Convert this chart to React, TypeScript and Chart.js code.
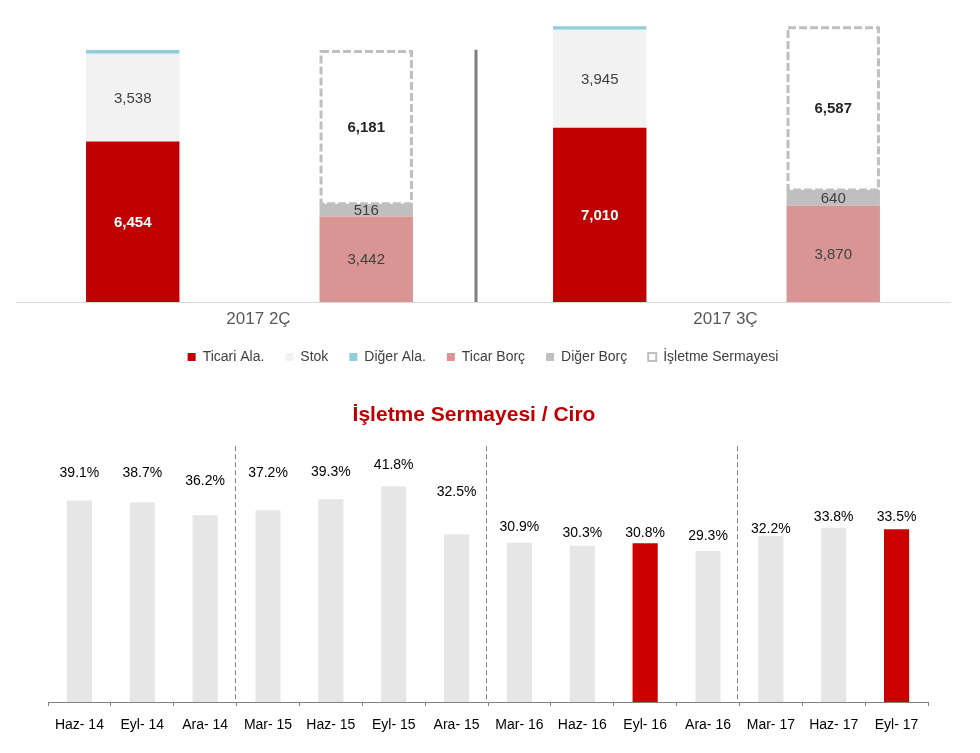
import React, { useEffect, useRef } from 'react';
import { Chart, registerables } from 'chart.js';

Chart.register(...registerables);
Chart.defaults.font.family = '"Liberation Sans", Arial, sans-serif';

// ---------- Top chart data (working capital composition) ----------
const PERIODS = ['2017 2Ç', '2017 3Ç'];
const TICARI_ALACAK = [6454, 7010];
const STOK = [3538, 3945];
const DIGER_ALACAK = [147, 142];
const TICARI_BORC = [3442, 3870];
const DIGER_BORC = [516, 640];
const ISLETME_SERMAYESI = [6181, 6587];

// ---------- Bottom chart data (working capital / revenue) ----------
const RATIO_LABELS = [
  'Haz- 14', 'Eyl- 14', 'Ara- 14', 'Mar- 15', 'Haz- 15', 'Eyl- 15', 'Ara- 15',
  'Mar- 16', 'Haz- 16', 'Eyl- 16', 'Ara- 16', 'Mar- 17', 'Haz- 17', 'Eyl- 17',
];
const RATIO_VALUES = [39.1, 38.7, 36.2, 37.2, 39.3, 41.8, 32.5, 30.9, 30.3, 30.8, 29.3, 32.2, 33.8, 33.5];
const HIGHLIGHTED = ['Eyl- 16', 'Eyl- 17'];

// label lift above each bar (px) – styling only
const LABEL_LIFT = [27, 29, 34, 37, 27, 21, 42, 16, 13, 10, 15, 7, 11, 12];

const FONT = '"Liberation Sans", Arial, sans-serif';
const fmt = (v: number) => v.toLocaleString('en-US');

const TOP_LABEL_STYLE: ({ color: string; bold: boolean } | null)[] = [
  { color: '#FFFFFF', bold: true },
  { color: '#404040', bold: false },
  null,
  { color: '#404040', bold: false },
  { color: '#404040', bold: false },
  { color: '#262626', bold: true },
];

const topOverlay = {
  id: 'topOverlay',
  afterDatasetsDraw(chart: any) {
    const ctx = chart.ctx;
    const xs = chart.scales.x;
    const ys = chart.scales.y;
    ctx.save();
    // divider between periods
    const dx = xs.getPixelForValue(0.485);
    ctx.strokeStyle = '#7F7F7F';
    ctx.lineWidth = 3;
    ctx.beginPath();
    ctx.moveTo(dx, ys.getPixelForValue(10150));
    ctx.lineTo(dx, chart.chartArea.bottom);
    ctx.stroke();
    // dashed working-capital boxes
    const meta = chart.getDatasetMeta(5);
    ctx.setLineDash([8, 3]);
    ctx.strokeStyle = '#BFBFBF';
    ctx.lineWidth = 3;
    meta.data.forEach((bar: any) => {
      const p = bar.getProps(['x', 'y', 'base', 'width'], true);
      ctx.strokeRect(p.x - p.width / 2 + 1.5, p.y + 1.5, p.width - 3, p.base - p.y - 1.5);
    });
    ctx.setLineDash([]);
    // value labels
    ctx.textAlign = 'center';
    ctx.textBaseline = 'middle';
    chart.data.datasets.forEach((ds: any, di: number) => {
      const st = TOP_LABEL_STYLE[di];
      if (!st) return;
      chart.getDatasetMeta(di).data.forEach((bar: any, i: number) => {
        const p = bar.getProps(['x', 'y', 'base'], true);
        ctx.font = `${st.bold ? 'bold ' : ''}15px ${FONT}`;
        ctx.fillStyle = st.color;
        ctx.fillText(fmt(ds.data[i]), p.x, (p.y + p.base) / 2 + 1);
      });
    });
    ctx.restore();
  },
};

const bottomOverlay = {
  id: 'bottomOverlay',
  afterDatasetsDraw(chart: any) {
    const ctx = chart.ctx;
    const xs = chart.scales.x;
    const area = chart.chartArea;
    ctx.save();
    ctx.strokeStyle = '#7F7F7F';
    ctx.lineWidth = 1;
    ctx.setLineDash([5, 3]);
    RATIO_LABELS.forEach((l, i) => {
      if (i > 0 && l.startsWith('Mar')) {
        const px = Math.round((xs.getPixelForValue(i - 1) + xs.getPixelForValue(i)) / 2) - 1.5;
        ctx.beginPath();
        ctx.moveTo(px, area.top + 2);
        ctx.lineTo(px, area.bottom);
        ctx.stroke();
      }
    });
    ctx.setLineDash([]);
    ctx.font = `14px ${FONT}`;
    ctx.fillStyle = '#000000';
    ctx.textAlign = 'center';
    ctx.textBaseline = 'middle';
    chart.getDatasetMeta(0).data.forEach((bar: any, i: number) => {
      const p = bar.getProps(['x', 'y'], true);
      ctx.fillText(RATIO_VALUES[i].toFixed(1) + '%', p.x, p.y - LABEL_LIFT[i]);
    });
    ctx.restore();
  },
};

function TopChart() {
  const ref = useRef<HTMLCanvasElement>(null);
  useEffect(() => {
    if (!ref.current) return;
    const chart = new Chart(ref.current, {
      type: 'bar',
      data: {
        labels: PERIODS,
        datasets: [
          { label: 'Ticari Ala.', data: TICARI_ALACAK, backgroundColor: '#C00000', stack: 'varlik' },
          { label: 'Stok', data: STOK, backgroundColor: '#F2F2F2', stack: 'varlik' },
          { label: 'Diğer Ala.', data: DIGER_ALACAK, backgroundColor: '#92CDDC', stack: 'varlik' },
          { label: 'Ticar Borç', data: TICARI_BORC, backgroundColor: '#D99594', stack: 'borc' },
          { label: 'Diğer Borç', data: DIGER_BORC, backgroundColor: '#BFBFBF', stack: 'borc' },
          { label: 'İşletme Sermayesi', data: ISLETME_SERMAYESI, backgroundColor: '#FFFFFF', stack: 'borc' },
        ],
      },
      options: {
        responsive: false,
        animation: false,
        events: [],
        datasets: { bar: { categoryPercentage: 1, barPercentage: 0.4 } },
        layout: { padding: { left: 16, right: 30, top: 8, bottom: 0 } },
        plugins: {
          tooltip: { enabled: false },
          legend: {
            position: 'bottom',
            labels: {
              boxWidth: 8,
              boxHeight: 8,
              padding: 21,
              color: '#404040',
              font: { size: 14 },
              generateLabels(chart: any) {
                const items = (Chart.defaults.plugins.legend.labels as any).generateLabels(chart);
                return items.map((it: any, i: number) =>
                  i === 5
                    ? { ...it, fillStyle: '#FFFFFF', strokeStyle: '#BFBFBF', lineWidth: 2 }
                    : { ...it, lineWidth: 0 }
                );
              },
            },
          },
        },
        scales: {
          x: {
            stacked: true,
            grid: { display: false, drawTicks: false },
            border: { display: true, color: '#D9D9D9', width: 1 },
            ticks: { color: '#595959', font: { size: 17 }, padding: 7, labelOffset: 9 },
            afterFit(scale: any) {
              scale.height = 27;
            },
          },
          y: { stacked: true, display: false, min: 0, max: 11830 },
        },
      },
      plugins: [topOverlay],
    } as any);
    return () => chart.destroy();
  }, []);
  return (
    <canvas
      ref={ref}
      width={980}
      height={374}
      style={{ position: 'absolute', left: 0, top: 0, width: 980, height: 374, display: 'block' }}
    />
  );
}

function BottomChart() {
  const ref = useRef<HTMLCanvasElement>(null);
  useEffect(() => {
    if (!ref.current) return;
    const chart = new Chart(ref.current, {
      type: 'bar',
      data: {
        labels: RATIO_LABELS,
        datasets: [
          {
            label: 'İşletme Sermayesi / Ciro',
            data: RATIO_VALUES,
            backgroundColor: RATIO_LABELS.map((l) => (HIGHLIGHTED.includes(l) ? '#CC0000' : '#E6E6E6')),
            categoryPercentage: 1,
            barPercentage: 0.4,
          },
        ],
      },
      options: {
        responsive: false,
        animation: false,
        events: [],
        layout: { padding: { left: 20, right: 52, top: 0, bottom: 21 } },
        plugins: {
          tooltip: { enabled: false },
          legend: { display: false },
          title: {
            display: true,
            text: 'İşletme Sermayesi / Ciro',
            color: '#C00000',
            font: { size: 21, weight: 'bold' },
            padding: { top: 18, bottom: 16 },
          },
        },
        scales: {
          x: {
            grid: { display: true, drawOnChartArea: false, drawTicks: true, tickLength: 4, color: '#808080', offset: true },
            border: { display: true, color: '#808080', width: 1 },
            ticks: { color: '#000000', font: { size: 14 }, padding: 11, maxRotation: 0, autoSkip: false },
            afterFit(scale: any) {
              scale.height = 30;
            },
          },
          y: {
            display: true,
            min: 0,
            max: 50,
            ticks: { display: false },
            grid: { display: false },
            border: { display: false },
            afterFit(scale: any) {
              scale.width = 28;
            },
          },
        },
      },
      plugins: [bottomOverlay],
    } as any);
    return () => chart.destroy();
  }, []);
  return (
    <canvas
      ref={ref}
      width={980}
      height={368}
      style={{ position: 'absolute', left: 0, top: 385, width: 980, height: 368, display: 'block' }}
    />
  );
}

export default function App() {
  return (
    <div style={{ position: 'absolute', left: 0, top: 0, width: 980, height: 753, background: '#FFFFFF', overflow: 'hidden' }}>
      <TopChart />
      <BottomChart />
    </div>
  );
}
